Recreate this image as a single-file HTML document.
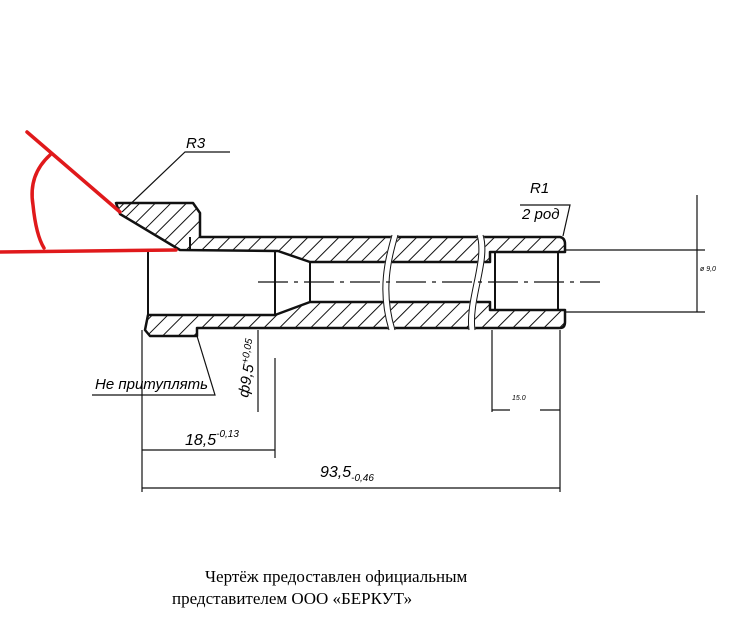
<!DOCTYPE html>
<html><head><meta charset="utf-8"><style>
html,body{margin:0;padding:0;background:#fff}
svg{display:block}
text{font-family:"Liberation Sans",sans-serif;font-style:italic}
text.f{font-family:"Liberation Serif",serif;font-style:normal}
</style></head><body>
<svg width="738" height="634" viewBox="0 0 738 634" xmlns="http://www.w3.org/2000/svg">
<defs>
<pattern id="h" width="11" height="11" patternUnits="userSpaceOnUse" patternTransform="rotate(45)">
<line x1="0" y1="0" x2="0" y2="11" stroke="#111" stroke-width="2"/>
</pattern>
</defs>
<g stroke="#111" stroke-width="2.5" fill="url(#h)" stroke-linejoin="round">
<path d="M116,203 L193,203 L200,213 L200,237 L560,237 Q565,238 565,244 L565,252 L490,252 L490,262 L310,262 L278,251 L180,250 L120,214 Z"/>
<path d="M148,315 L275,315 L310,302 L490,302 L490,310 L565,310 L565,322 Q565,328 560,328 L197,328 L197,336 L150,336 L145,330 Z"/>
</g>
<g stroke="#111" stroke-width="2" fill="none">
<line x1="148" y1="250" x2="148" y2="315"/>
<line x1="275" y1="251" x2="275" y2="315"/>
<line x1="310" y1="263" x2="310" y2="302"/>
<rect x="495" y="252" width="63" height="58"/>
<line x1="190" y1="250" x2="190" y2="237"/>
</g>
<g stroke="#fff" stroke-width="7" fill="none">
<path d="M395,235 C388,260 380,290 392,330"/>
<path d="M480,235 C488,260 468,300 472,330"/>
</g>
<g stroke="#111" stroke-width="1" fill="none">
<path d="M392,235 C385,260 377,290 389,330"/>
<path d="M398,235 C391,260 383,290 395,330"/>
<path d="M477,235 C485,260 465,300 469,330"/>
<path d="M483,235 C491,260 471,300 475,330"/>
</g>
<line x1="258" y1="282" x2="600" y2="282" stroke="#111" stroke-width="1.2" stroke-dasharray="30,6,4,6"/>
<g stroke="#111" stroke-width="1.2" fill="none">
<polyline points="122,212 185,152 230,152"/>
<polyline points="520,205 570,205 563,236"/>
<line x1="565" y1="250" x2="705" y2="250"/>
<line x1="565" y1="312" x2="705" y2="312"/>
<line x1="697" y1="195" x2="697" y2="312"/>
<line x1="142" y1="330" x2="142" y2="492"/>
<line x1="258" y1="330" x2="258" y2="412"/>
<line x1="275" y1="358" x2="275" y2="458"/>
<line x1="492" y1="330" x2="492" y2="412"/>
<line x1="560" y1="330" x2="560" y2="492"/>
<line x1="142" y1="450" x2="275" y2="450"/>
<line x1="142" y1="488" x2="560" y2="488"/>
<line x1="492" y1="410" x2="510" y2="410"/>
<line x1="540" y1="410" x2="560" y2="410"/>
<polyline points="92,395 215,395 197,336"/>
</g>
<g stroke="#e0191b" stroke-width="3.5" fill="none" stroke-linecap="round">
<line x1="27" y1="132" x2="120" y2="212"/>
<line x1="0" y1="252" x2="176" y2="250"/>
<path d="M50,155 Q28,175 33,205 Q36,235 44,248"/>
</g>
<text x="186" y="148" font-size="15">R3</text>
<text x="530" y="193" font-size="15">R1</text>
<text x="522" y="219" font-size="15">2 род</text>
<text x="700" y="271" font-size="7" font-style="normal">ø 9,0</text>
<text x="95" y="389" font-size="15">Не притуплять</text>
<text transform="translate(248,398) rotate(-80)" font-size="15">ф9,5<tspan font-size="10" dy="-6">+0,05</tspan></text>
<text x="185" y="445" font-size="16">18,5<tspan font-size="10" dy="-8">-0,13</tspan></text>
<text x="320" y="477" font-size="16">93,5<tspan font-size="10" dy="4">-0,46</tspan></text>
<text x="512" y="400" font-size="7" font-style="normal">15.0</text>
<text class="f" x="205" y="582" font-size="17">Чертёж предоставлен официальным</text>
<text class="f" x="172" y="604" font-size="17">представителем ООО «БЕРКУТ»</text>
</svg>
</body></html>
